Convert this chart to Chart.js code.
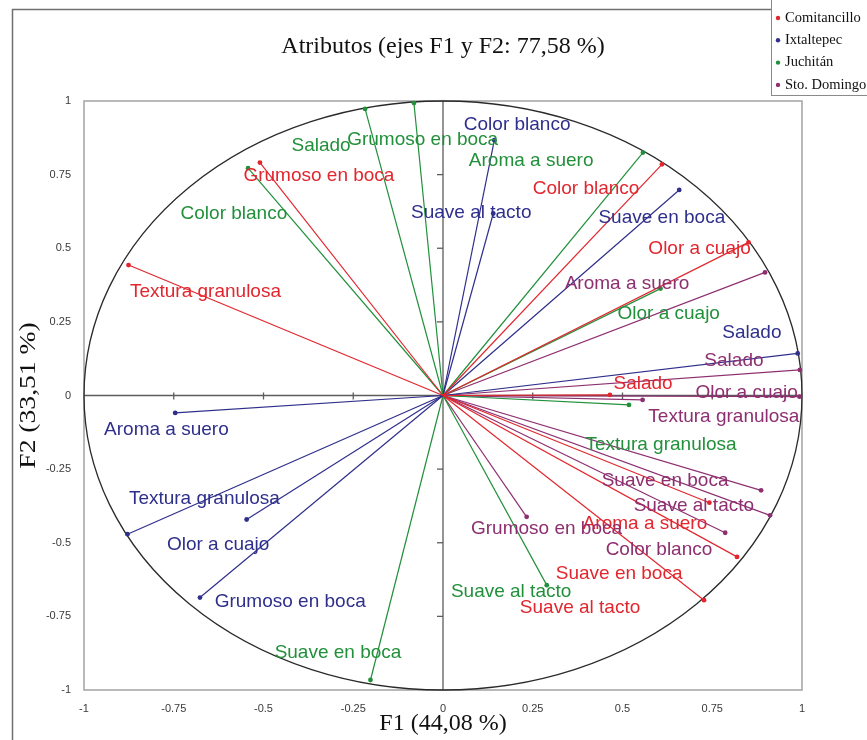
<!DOCTYPE html>
<html>
<head>
<meta charset="utf-8">
<script src="https://cdn.jsdelivr.net/npm/chart.js@4/dist/chart.umd.min.js"></script>
<style>
  html, body { margin: 0; padding: 0; background: #ffffff; }
  #wrap { position: relative; width: 867px; height: 740px; }
</style>
</head>
<body>
<div id="wrap"><canvas id="c" width="867" height="740"></canvas></div>
<script>
// Correlation circle: loadings of the sensory attributes on F1 and F2 for each locality
const groups = ['Comitancillo', 'Ixtaltepec', 'Juchitán', 'Sto. Domingo'];
const tickValues = [-1, -0.75, -0.5, -0.25, 0, 0.25, 0.5, 0.75, 1];

const comitancilloAttr = ['Textura granulosa', 'Grumoso en boca', 'Color blanco', 'Olor a cuajo', 'Salado', 'Aroma a suero', 'Suave en boca', 'Suave al tacto'];
const comitancilloF1 = [-0.876, -0.510, 0.610, 0.851, 0.465, 0.742, 0.819, 0.727];
const comitancilloF2 = [0.443, 0.791, 0.785, 0.520, 0.002, -0.364, -0.548, -0.695];

const ixtaltepecAttr = ['Color blanco', 'Suave al tacto', 'Suave en boca', 'Salado', 'Aroma a suero', 'Textura granulosa', 'Olor a cuajo', 'Grumoso en boca'];
const ixtaltepecF1 = [0.143, 0.140, 0.658, 0.988, -0.746, -0.879, -0.547, -0.677];
const ixtaltepecF2 = [0.867, 0.618, 0.698, 0.143, -0.059, -0.471, -0.421, -0.686];

const juchitanAttr = ['Salado', 'Grumoso en boca', 'Color blanco', 'Aroma a suero', 'Olor a cuajo', 'Textura granulosa', 'Suave al tacto', 'Suave en boca'];
const juchitanF1 = [-0.217, -0.081, -0.543, 0.557, 0.606, 0.518, 0.289, -0.202];
const juchitanF2 = [0.973, 0.993, 0.772, 0.825, 0.363, -0.032, -0.644, -0.966];

const stoDomingoAttr = ['Aroma a suero', 'Salado', 'Olor a cuajo', 'Textura granulosa', 'Suave en boca', 'Suave al tacto', 'Color blanco', 'Grumoso en boca'];
const stoDomingoF1 = [0.897, 0.994, 0.993, 0.556, 0.886, 0.911, 0.786, 0.233];
const stoDomingoF2 = [0.418, 0.087, -0.004, -0.015, -0.322, -0.407, -0.466, -0.412];

// Where each attribute name is written (left edge, vertical middle), in axis units
const comitancilloLabelAt = [[-0.872, 0.353], [-0.556, 0.746], [0.250, 0.702], [0.572, 0.498], [0.475, 0.041], [0.389, -0.437], [0.314, -0.607], [0.214, -0.722]];
const ixtaltepecLabelAt = [[0.058, 0.919], [-0.089, 0.620], [0.433, 0.603], [0.778, 0.214], [-0.944, -0.115], [-0.875, -0.349], [-0.769, -0.508], [-0.636, -0.702]];
const juchitanLabelAt = [[-0.422, 0.847], [-0.267, 0.868], [-0.731, 0.617], [0.072, 0.797], [0.486, 0.278], [0.397, -0.166], [0.022, -0.668], [-0.469, -0.875]];
const stoDomingoLabelAt = [[0.339, 0.380], [0.728, 0.119], [0.703, 0.008], [0.572, -0.071], [0.442, -0.289], [0.531, -0.376], [0.453, -0.525], [0.078, -0.451]];

const groupColors = ['#e2262e', '#2f2f8c', '#22903b', '#8d2f70'];

const series = [
  { attr: comitancilloAttr, f1: comitancilloF1, f2: comitancilloF2, labelAt: comitancilloLabelAt },
  { attr: ixtaltepecAttr, f1: ixtaltepecF1, f2: ixtaltepecF2, labelAt: ixtaltepecLabelAt },
  { attr: juchitanAttr, f1: juchitanF1, f2: juchitanF2, labelAt: juchitanLabelAt },
  { attr: stoDomingoAttr, f1: stoDomingoF1, f2: stoDomingoF2, labelAt: stoDomingoLabelAt }
];

// one short line dataset per attribute vector, from the origin to its loading
const datasets = [];
series.forEach((s, g) => {
  s.attr.forEach((name, i) => {
    datasets.push({
      label: groups[g] + ' – ' + name,
      data: [{ x: 0, y: 0 }, { x: s.f1[i], y: s.f2[i] }],
      showLine: true,
      borderColor: groupColors[g],
      backgroundColor: groupColors[g],
      borderWidth: 1.2,
      pointRadius: [0, 2.4],
      pointBorderWidth: 0,
      pointHoverRadius: [0, 2.4],
      clip: 6
    });
  });
});

function strokeLine(ctx, x1, y1, x2, y2) {
  ctx.beginPath(); ctx.moveTo(x1, y1); ctx.lineTo(x2, y2); ctx.stroke();
}

const tickText = v => String(Math.round(v * 100) / 100);

const circlePlot = {
  id: 'circlePlot',
  beforeDatasetsDraw(chart) {
    const { ctx, chartArea: a, scales: { x, y } } = chart;
    const x0 = x.getPixelForValue(0), y0 = y.getPixelForValue(0);
    ctx.save();
    // panel border on the left and top
    ctx.strokeStyle = '#6f6f6f';
    ctx.lineWidth = 1.5;
    ctx.beginPath(); ctx.moveTo(12.5, 740); ctx.lineTo(12.5, 9.5); ctx.lineTo(771, 9.5); ctx.stroke();
    // plot frame
    ctx.strokeStyle = '#a8a8a8';
    ctx.lineWidth = 1.6;
    ctx.strokeRect(a.left, a.top, a.right - a.left, a.bottom - a.top);
    // axes through the origin, with their tick marks
    ctx.strokeStyle = '#5c5c5c';
    ctx.lineWidth = 1.3;
    strokeLine(ctx, a.left, y0, a.right, y0);
    strokeLine(ctx, x0, a.top, x0, a.bottom);
    tickValues.forEach(v => {
      if (v === 0 || Math.abs(v) === 1) return;
      const px = x.getPixelForValue(v);
      strokeLine(ctx, px, y0 - 3, px, y0 + 4);
      const py = y.getPixelForValue(v);
      strokeLine(ctx, x0 - 6, py, x0, py);
    });
    // unit circle
    ctx.strokeStyle = '#2a2a2a';
    ctx.lineWidth = 1.3;
    ctx.beginPath();
    ctx.ellipse(x0, y0, x.getPixelForValue(1) - x0, y0 - y.getPixelForValue(1), 0, 0, Math.PI * 2);
    ctx.stroke();
    ctx.restore();
  },
  afterDatasetsDraw(chart) {
    const { ctx, scales: { x, y } } = chart;
    ctx.save();
    ctx.font = '19px "Liberation Sans", Arial, sans-serif';
    ctx.textAlign = 'left';
    ctx.textBaseline = 'middle';
    series.forEach((s, g) => {
      ctx.fillStyle = groupColors[g];
      s.attr.forEach((name, i) => {
        const [lx, ly] = s.labelAt[i];
        ctx.fillText(name, x.getPixelForValue(lx), y.getPixelForValue(ly));
      });
    });
    ctx.restore();
  },
  afterDraw(chart) {
    const { ctx, chartArea: a } = chart;
    const cx = (a.left + a.right) / 2;
    const cy = (a.top + a.bottom) / 2;
    ctx.save();
    ctx.fillStyle = '#111111';
    ctx.font = '24px "Liberation Serif", "Times New Roman", serif';
    ctx.textAlign = 'center';
    ctx.textBaseline = 'middle';
    ctx.fillText('Atributos (ejes F1 y F2: 77,58 %)', cx, 47);
    ctx.fillText('F1 (44,08 %)', cx, 724);
    ctx.save();
    ctx.translate(29, cy);
    ctx.rotate(-Math.PI / 2);
    ctx.scale(1.15, 1);
    ctx.fillText('F2 (33,51 %)', 0, 0);
    ctx.restore();

    // legend box
    ctx.strokeStyle = '#8a8a8a';
    ctx.lineWidth = 1;
    ctx.strokeRect(771.5, -1, 104, 96.5);
    ctx.font = '14.5px "Liberation Serif", "Times New Roman", serif';
    ctx.textAlign = 'left';
    groups.forEach((name, g) => {
      const ly = 18 + g * 22.3;
      ctx.fillStyle = groupColors[g];
      ctx.beginPath(); ctx.arc(778, ly, 2.2, 0, Math.PI * 2); ctx.fill();
      ctx.fillStyle = '#111111';
      ctx.fillText(name, 785, ly);
    });
    ctx.restore();
  }
};

new Chart(document.getElementById('c'), {
  type: 'scatter',
  data: { datasets },
  options: {
    responsive: false,
    animation: false,
    devicePixelRatio: 1,
    layout: { padding: { left: 12, top: 101, right: 65, bottom: 0 } },
    plugins: {
      legend: { display: false },
      title: { display: false },
      tooltip: { enabled: false }
    },
    scales: {
      x: {
        type: 'linear',
        min: -1, max: 1,
        afterFit(scale) { scale.height = 50; },
        afterBuildTicks(scale) { scale.ticks = tickValues.map(v => ({ value: v })); },
        grid: { display: false, drawTicks: false },
        border: { display: false },
        ticks: {
          padding: 12,
          color: '#3a3a3a',
          font: { family: '"Liberation Sans", Arial, sans-serif', size: 11 },
          maxRotation: 0,
          autoSkip: false,
          callback: tickText
        }
      },
      y: {
        type: 'linear',
        min: -1, max: 1,
        afterFit(scale) { scale.width = 72; },
        afterBuildTicks(scale) { scale.ticks = tickValues.map(v => ({ value: v })); },
        grid: { display: false, drawTicks: false },
        border: { display: false },
        ticks: {
          padding: 13,
          color: '#3a3a3a',
          font: { family: '"Liberation Sans", Arial, sans-serif', size: 11 },
          autoSkip: false,
          callback: tickText
        }
      }
    }
  },
  plugins: [circlePlot]
});
</script>
</body>
</html>
